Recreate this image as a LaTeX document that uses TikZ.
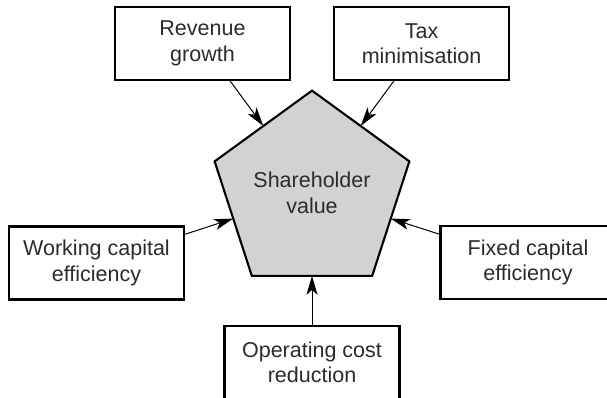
\documentclass[tikz,border=0pt]{standalone}
\usepackage{fontspec}
\setmainfont{Liberation Sans}
\usetikzlibrary{shapes.geometric,arrows.meta}
\definecolor{pentagrey}{HTML}{D1D2D4}
\definecolor{textgrey}{HTML}{2B2B2B}
\begin{document}
\begin{tikzpicture}[x=1pt,y=-1pt,
		box/.style={draw,line width=2.1pt,minimum width=175pt,minimum height=73pt,inner sep=0pt,align=center,text=textgrey,font=\fontsize{21.5}{25.5}\selectfont},
		feed/.style={line width=1pt,-{Stealth[length=19pt,width=11pt,inset=5pt]}}]
		\useasboundingbox (0,0) rectangle (607,397);
		\node[regular polygon,regular polygon sides=5,minimum size=190pt,inner sep=0pt,outer sep=0pt,draw,line width=2.1pt,fill=pentagrey,align=center,text=textgrey,font=\fontsize{21.5}{25.5}\selectfont] (value) at (312,193) {Shareholder\\value};
		\node[box] (revenue) at (202.5,43.5) {Revenue\\growth};
		\node[box] (tax) at (421.5,43.5) {Tax\\minimisation};
		\node[box] (working) at (96.5,263) {Working capital\\efficiency};
		\node[box] (fixed) at (528,262.5) {Fixed capital\\efficiency};
		\node[box] (operating) at (312,362.5) {Operating cost\\reduction};
		\draw[feed] (revenue) -- (value.side 1);
		\draw[feed] (tax) -- (value.side 5);
		\draw[feed] (working) -- (value.side 2);
		\draw[feed] (fixed) -- (value.side 4);
		\draw[feed] (operating) -- (value.side 3);
	\end{tikzpicture}
\end{document}
